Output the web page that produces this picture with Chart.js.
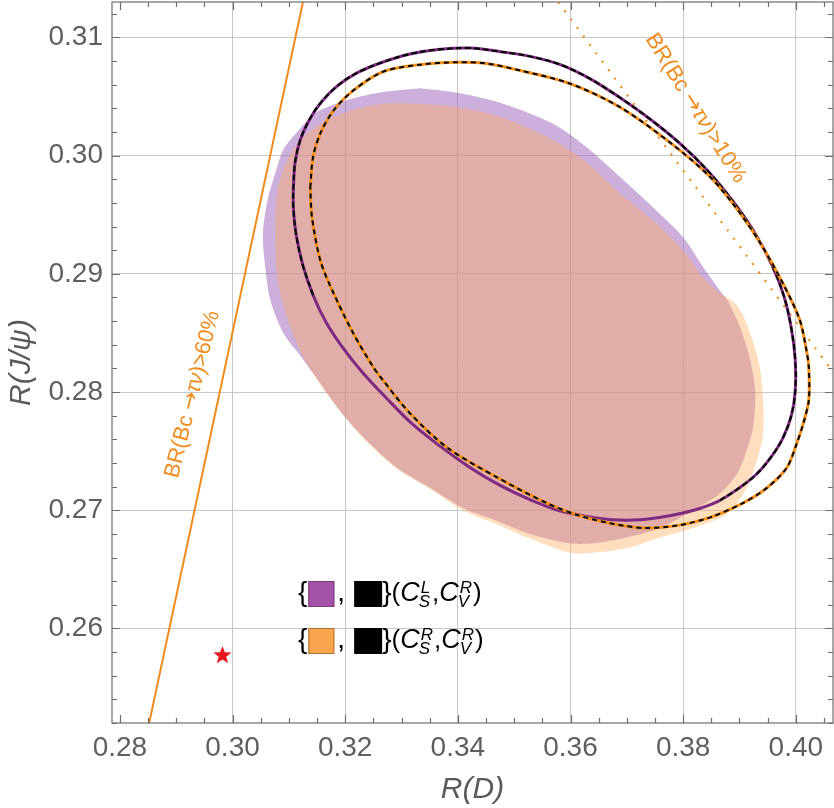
<!DOCTYPE html>
<html><head><meta charset="utf-8">
<script src="https://cdn.jsdelivr.net/npm/chart.js@4.4.1/dist/chart.umd.min.js"></script>
<style>html,body{margin:0;padding:0;background:#fff}#wrap{width:834px;height:808px;position:relative}</style>
</head><body><div id="wrap"><canvas id="c"></canvas></div>
<script>
// ---- axes ----
const xTicks = [0.28, 0.30, 0.32, 0.34, 0.36, 0.38, 0.40];
const yTicks = [0.26, 0.27, 0.28, 0.29, 0.30, 0.31];
const xRange = [0.2786, 0.4066];
const yRange = [0.252, 0.313];

// ---- allowed region (C_S^L, C_V^R), purple ----
const purpleRegionX = [0.3333,0.3401,0.3480,0.3569,0.3629,0.3688,0.3747,0.3800,0.3835,0.3865,0.3878,0.3901,0.3919,0.3928,0.3924,0.3913,0.3896,0.3865,0.3818,0.3759,0.3700,0.3640,0.3599,0.3528,0.3470,0.3409,0.3351,0.3292,0.3232,0.3191,0.3152,0.3120,0.3090,0.3067,0.3058,0.3054,0.3062,0.3079,0.3090,0.3120,0.3147,0.3179,0.3218,0.3271];
const purpleRegionY = [0.3057,0.3053,0.3044,0.3027,0.3007,0.2982,0.2956,0.2931,0.2906,0.2886,0.2878,0.2855,0.2827,0.2799,0.2770,0.2751,0.2731,0.2714,0.2700,0.2685,0.2677,0.2672,0.2672,0.2680,0.2691,0.2702,0.2719,0.2736,0.2762,0.2784,0.2810,0.2831,0.2850,0.2878,0.2906,0.2934,0.2962,0.2990,0.3005,0.3023,0.3036,0.3043,0.3049,0.3054];

// ---- allowed region (C_S^R, C_V^R), orange ----
const orangeRegionX = [0.3333,0.3401,0.3480,0.3569,0.3629,0.3688,0.3747,0.3800,0.3835,0.3865,0.3896,0.3919,0.3936,0.3942,0.3942,0.3931,0.3913,0.3878,0.3818,0.3759,0.3700,0.3640,0.3599,0.3528,0.3470,0.3409,0.3351,0.3292,0.3232,0.3191,0.3152,0.3120,0.3097,0.3081,0.3076,0.3076,0.3081,0.3097,0.3120,0.3156,0.3209,0.3267];
const orangeRegionY = [0.3044,0.3041,0.3032,0.3013,0.2994,0.2968,0.2945,0.2920,0.2897,0.2884,0.2873,0.2850,0.2821,0.2793,0.2765,0.2742,0.2719,0.2697,0.2685,0.2677,0.2668,0.2664,0.2664,0.2676,0.2688,0.2700,0.2718,0.2735,0.2761,0.2784,0.2809,0.2835,0.2863,0.2892,0.2920,0.2948,0.2973,0.2996,0.3013,0.3027,0.3038,0.3044];

// ---- contour 1 (purple + black) ----
const ellipse1X = [0.3108,0.3111,0.3120,0.3136,0.3157,0.3186,0.3221,0.3266,0.3315,0.3369,0.3422,0.3475,0.3528,0.3582,0.3635,0.3688,0.3741,0.3795,0.3844,0.3889,0.3928,0.3958,0.3979,0.3992,0.3999,0.3999,0.3992,0.3977,0.3956,0.3929,0.3897,0.3860,0.3819,0.3771,0.3724,0.3674,0.3626,0.3578,0.3528,0.3475,0.3422,0.3369,0.3319,0.3273,0.3230,0.3195,0.3166,0.3143,0.3125,0.3113,0.3108];
const ellipse1Y = [0.2973,0.2994,0.3013,0.3030,0.3045,0.3059,0.3070,0.3079,0.3086,0.3090,0.3091,0.3088,0.3084,0.3077,0.3065,0.3049,0.3031,0.3010,0.2987,0.2961,0.2934,0.2907,0.2881,0.2854,0.2827,0.2801,0.2780,0.2761,0.2745,0.2730,0.2718,0.2707,0.2700,0.2695,0.2692,0.2692,0.2695,0.2700,0.2709,0.2721,0.2736,0.2754,0.2773,0.2795,0.2817,0.2838,0.2859,0.2882,0.2907,0.2933,0.2956];

// ---- contour 2 (orange + black dashed) ----
const ellipse2X = [0.3138,0.3143,0.3156,0.3179,0.3214,0.3267,0.3333,0.3398,0.3451,0.3511,0.3599,0.3688,0.3777,0.3848,0.3897,0.3937,0.3977,0.4007,0.4019,0.4023,0.4023,0.4013,0.4002,0.3984,0.3949,0.3906,0.3848,0.3789,0.3729,0.3670,0.3612,0.3558,0.3469,0.3381,0.3315,0.3267,0.3250,0.3214,0.3179,0.3156,0.3141];
const ellipse2Y = [0.2973,0.2999,0.3019,0.3038,0.3055,0.3071,0.3077,0.3079,0.3078,0.3072,0.3061,0.3041,0.3011,0.2982,0.2954,0.2926,0.2892,0.2861,0.2835,0.2821,0.2793,0.2773,0.2757,0.2736,0.2719,0.2706,0.2694,0.2687,0.2685,0.2689,0.2696,0.2706,0.2728,0.2753,0.2782,0.2810,0.2821,0.2850,0.2884,0.2911,0.2948];

// ---- BR(Bc -> tau nu) bounds ----
const br60LineX = [0.2852, 0.3125];
const br60LineY = [0.2520, 0.3130];
const br10LineX = [0.3578, 0.4066];
const br10LineY = [0.3130, 0.2817];

// ---- SM point ----
const smPointX = [0.2982];
const smPointY = [0.2578];

function pts(xs, ys, closed) {
  const a = xs.map((x, i) => ({x: x, y: ys[i]}));
  if (closed) a.push({x: xs[0], y: ys[0]});
  return a;
}
const ell1BlackX = ellipse1X.slice(47).concat(ellipse1X.slice(0, 32));
const ell1BlackY = ellipse1Y.slice(47).concat(ellipse1Y.slice(0, 32));

function starCanvas(r, color) {
  const c = document.createElement('canvas');
  const s = Math.ceil(r * 2 + 2);
  c.width = s; c.height = s;
  const g = c.getContext('2d');
  g.fillStyle = color;
  g.beginPath();
  for (let i = 0; i < 10; i++) {
    const rr = i % 2 ? r * 0.42 : r;
    const a = -Math.PI / 2 + i * Math.PI / 5;
    g.lineTo(s / 2 + rr * Math.cos(a), s / 2 + 1 + rr * Math.sin(a));
  }
  g.closePath(); g.fill();
  return c;
}

const FONT = '"Liberation Sans", Arial, sans-serif';
const ARROW_FONT = '"DejaVu Sans", sans-serif';
const ORANGE_TXT = '#f08c1e';

function runFont(r, size) { return (r[1] ? 'italic ' : '') + size + 'px ' + (r[2] || FONT); }
function drawRuns(ctx, runs, size) {
  let total = 0;
  const ws = runs.map(r => { ctx.font = runFont(r, size); const w = ctx.measureText(r[0]).width; total += w; return w; });
  let x = -total / 2;
  runs.forEach((r, i) => { ctx.font = runFont(r, size); ctx.fillText(r[0], x, 0); x += ws[i]; });
}

function legendRow(ctx, x, base, color, edge, supA, subA) {
  ctx.textAlign = 'left'; ctx.textBaseline = 'alphabetic';
  ctx.fillStyle = '#000';
  ctx.font = '28px ' + FONT;
  ctx.fillText('{', x, base); x += ctx.measureText('{').width + 1;
  const top = base - 20;
  ctx.fillStyle = color; ctx.fillRect(x, top, 26, 26);
  ctx.strokeStyle = edge; ctx.lineWidth = 1; ctx.strokeRect(x + 0.5, top + 0.5, 25, 25);
  x += 26;
  ctx.fillStyle = '#000';
  ctx.fillText(',', x + 3, base); x += 3 + ctx.measureText(',').width + 9;
  ctx.fillRect(x, top, 28, 26); x += 28;
  ctx.fillText('}', x, base); x += ctx.measureText('}').width;
  ctx.font = '26px ' + FONT; ctx.fillText('(', x, base); x += ctx.measureText('(').width;
  const cpart = (sup, sub) => {
    ctx.font = 'italic 27px ' + FONT; ctx.fillText('C', x, base); x += ctx.measureText('C').width;
    ctx.font = 'italic 17px ' + FONT;
    const w1 = ctx.measureText(sup).width, w2 = ctx.measureText(sub).width;
    ctx.fillText(sup, x + 1, base - 8); ctx.fillText(sub, x - 1, base + 6);
    x += Math.max(w1 + 1, w2) + 1;
  };
  cpart(supA, subA);
  ctx.font = '26px ' + FONT; ctx.fillText(',', x, base); x += ctx.measureText(',').width;
  cpart('R', 'V');
  ctx.font = '26px ' + FONT; ctx.fillText(')', x, base);
}

const framePlugin = {
  id: 'framePlugin',
  afterDatasetsDraw(chart) {
    const {ctx, chartArea: a, scales: {x, y}} = chart;
    ctx.save();
    ctx.strokeStyle = '#6e6e6e'; ctx.lineWidth = 1.2;
    ctx.strokeRect(a.left, a.top, a.right - a.left, a.bottom - a.top);
    ctx.beginPath();
    for (let i = 56; i <= 82; i++) {
      const v = i * 0.005; if (v < xRange[0] || v > xRange[1]) continue;
      const px = Math.round(x.getPixelForValue(v)) + 0.5; const len = i % 4 === 0 ? 8 : 5;
      ctx.moveTo(px, a.bottom); ctx.lineTo(px, a.bottom - len);
      ctx.moveTo(px, a.top); ctx.lineTo(px, a.top + len);
    }
    for (let i = 126; i <= 157; i++) {
      const v = i * 0.002; if (v < yRange[0] || v > yRange[1]) continue;
      const py = Math.round(y.getPixelForValue(v)) + 0.5; const len = i % 5 === 0 ? 8 : 5;
      ctx.moveTo(a.left, py); ctx.lineTo(a.left + len, py);
      ctx.moveTo(a.right, py); ctx.lineTo(a.right - len, py);
    }
    ctx.stroke();

    // labels along the BR lines
    ctx.fillStyle = ORANGE_TXT; ctx.textBaseline = 'middle'; ctx.textAlign = 'left';
    ctx.save();
    ctx.translate(x.getPixelForValue(0.2929), y.getPixelForValue(0.2798));
    ctx.rotate(-76 * Math.PI / 180);
    drawRuns(ctx, [['BR(Bc ', false], ['\u2192', false, ARROW_FONT], ['\u03c4\u03bd', true], [')>60%', false]], 22);
    ctx.restore();
    ctx.save();
    ctx.translate(x.getPixelForValue(0.3822), y.getPixelForValue(0.3040));
    ctx.rotate(58 * Math.PI / 180);
    drawRuns(ctx, [['BR(Bc ', false], ['\u2192', false, ARROW_FONT], ['\u03c4\u03bd', true], [')>10%', false]], 22);
    ctx.restore();

    // legend
    legendRow(ctx, 298, 601, '#a553a8', '#7a3a7c', 'L', 'S');
    legendRow(ctx, 298, 648, '#f9a54e', '#b07030', 'R', 'S');
    ctx.restore();
  }
};

Chart.defaults.font.family = FONT;

function noPad(s) { s.paddingTop = 0; s.paddingBottom = 0; s.paddingLeft = 0; s.paddingRight = 0; }

new Chart(document.getElementById('c'), {
  type: 'scatter',
  data: {
    datasets: [
      {label: 'region (CSL,CVR)', data: pts(purpleRegionX, purpleRegionY, true), showLine: true, fill: 'shape',
       backgroundColor: 'rgba(155,95,185,0.5)', borderWidth: 0, borderColor: 'rgba(0,0,0,0)', pointRadius: 0, tension: 0.3, order: 10},
      {label: 'region (CSR,CVR)', data: pts(orangeRegionX, orangeRegionY, true), showLine: true, fill: 'shape',
       backgroundColor: 'rgba(255,172,92,0.4)', borderWidth: 0, borderColor: 'rgba(0,0,0,0)', pointRadius: 0, tension: 0.3, order: 9},
      {label: 'BR>60%', data: pts(br60LineX, br60LineY), showLine: true, fill: false, borderColor: '#f08c1e', borderWidth: 2, pointRadius: 0, order: 8},
      {label: 'BR>10%', data: pts(br10LineX, br10LineY), showLine: true, fill: false, borderColor: '#f08c1e', borderWidth: 2.2, borderDash: [2, 8.5], pointRadius: 0, order: 7},
      {label: 'contour 1', data: pts(ellipse1X, ellipse1Y, true), showLine: true, fill: false, borderColor: '#7d2a80', borderWidth: 3, pointRadius: 0, tension: 0.35, order: 6},
      {label: 'contour 1 black', data: pts(ell1BlackX, ell1BlackY), showLine: true, fill: false, borderColor: '#000', borderWidth: 2, borderDash: [6, 3], pointRadius: 0, tension: 0.35, order: 5},
      {label: 'contour 2', data: pts(ellipse2X, ellipse2Y, true), showLine: true, fill: false, borderColor: '#f5901e', borderWidth: 3, pointRadius: 0, tension: 0.3, order: 4},
      {label: 'contour 2 black', data: pts(ellipse2X, ellipse2Y, true), showLine: true, fill: false, borderColor: '#000', borderWidth: 2, borderDash: [5, 4], pointRadius: 0, tension: 0.3, order: 3},
      {label: 'SM', data: pts(smPointX, smPointY), showLine: false, pointStyle: starCanvas(9.5, '#e8141e'), pointRadius: 10, order: 0}
    ]
  },
  options: {
    responsive: true, maintainAspectRatio: false, animation: false,
    layout: {autoPadding: false, padding: {top: 2, right: 1, left: 0, bottom: 0}},
    plugins: {legend: {display: false}, tooltip: {enabled: false}},
    events: [],
    scales: {
      x: {
        type: 'linear', position: 'bottom', min: xRange[0], max: xRange[1],
        afterBuildTicks: s => { s.ticks = xTicks.map(v => ({value: v})); },
        afterFit: s => { s.height = 85; noPad(s); },
        ticks: {callback: v => v.toFixed(2), font: {size: 28}, color: '#5f5f5f', padding: 8, maxRotation: 0, autoSkip: false},
        grid: {color: c => (c.tick && c.tick.value === 0.28) ? 'rgba(0,0,0,0)' : '#c6c6c6', drawTicks: false, lineWidth: 1},
        border: {display: false},
        title: {display: true, text: 'R(D)', font: {size: 30, style: 'italic'}, color: '#5a5a5a', padding: {top: 0, bottom: 0}}
      },
      y: {
        type: 'linear', position: 'left', min: yRange[0], max: yRange[1],
        afterBuildTicks: s => { s.ticks = yTicks.map(v => ({value: v})); },
        afterFit: s => { s.width = 112; noPad(s); },
        ticks: {callback: v => v.toFixed(2), font: {size: 28}, color: '#5f5f5f', padding: 9, autoSkip: false},
        grid: {color: '#c6c6c6', drawTicks: false, lineWidth: 1},
        border: {display: false},
        title: {display: true, text: 'R(J/\u03c8)', font: {size: 30, style: 'italic'}, color: '#5a5a5a', padding: {top: 4, bottom: 0}}
      }
    }
  },
  plugins: [framePlugin]
});
</script>
</body></html>
